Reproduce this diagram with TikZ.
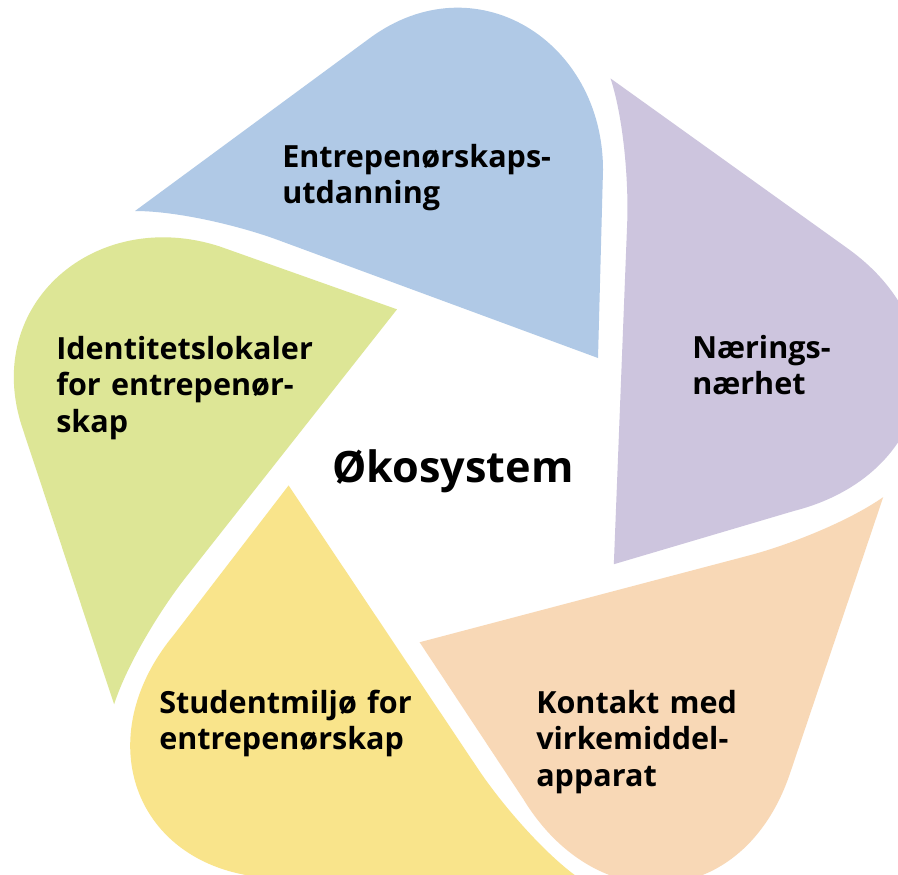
\documentclass[tikz,border=0pt]{standalone}
\usepackage{fontspec}
\setmainfont{Open Sans}
\definecolor{pblue}{RGB}{176,201,230}
\definecolor{ppurple}{RGB}{205,197,222}
\definecolor{porange}{RGB}{248,216,182}
\definecolor{pyellow}{RGB}{249,228,139}
\definecolor{pgreen}{RGB}{221,230,150}
\begin{document}
\begin{tikzpicture}[x=0.75pt,y=-0.75pt,
  lbl/.style={anchor=base west, inner sep=0pt, align=left, text width=230pt,
    font=\bfseries\fontsize{22.9}{27.4}\selectfont},
  title/.style={anchor=base west, inner sep=0pt,
    font=\bfseries\fontsize{32.4}{38}\selectfont}]
\useasboundingbox (0,0) rectangle (898,874);
\clip (0,0) rectangle (898,874);
\fill[white] (0,0) rectangle (898,874);
\foreach \ang/\col/\ax/\ay/\bx/\by in {0/pblue/475/-39/603/40,
    -72/ppurple/487/-48/612/28,
    -145/porange/487/-48/612/28,
    -216/pyellow/487/-48/612/28,
    -288/pgreen/475/-39/603/40}{
  \fill[\col, rotate around={\ang:(464,472)}]
    (135,211) -- (370,38) .. controls (\ax,\ay) and (\bx,\by) .. (603,170)
    -- (598,358) -- (278,240) .. controls (240,226) and (178,211) .. (135,211) -- cycle;
}
\node[lbl] (utd) at (282,167) {Entrepenørskaps-\\utdanning};
\node[lbl] (nar) at (692,358) {Nærings-\\nærhet};
\node[lbl] (kon) at (536,713) {Kontakt med\\virkemiddel-\\apparat};
\node[lbl] (stu) at (159,713) {Studentmiljø for\\entrepenørskap};
\node[lbl] (ide) at (56,359) {Identitetslokaler\\for entrepenør-\\skap};
\node[title] (oko) at (332,482) {Økosystem};
\end{tikzpicture}
\end{document}
